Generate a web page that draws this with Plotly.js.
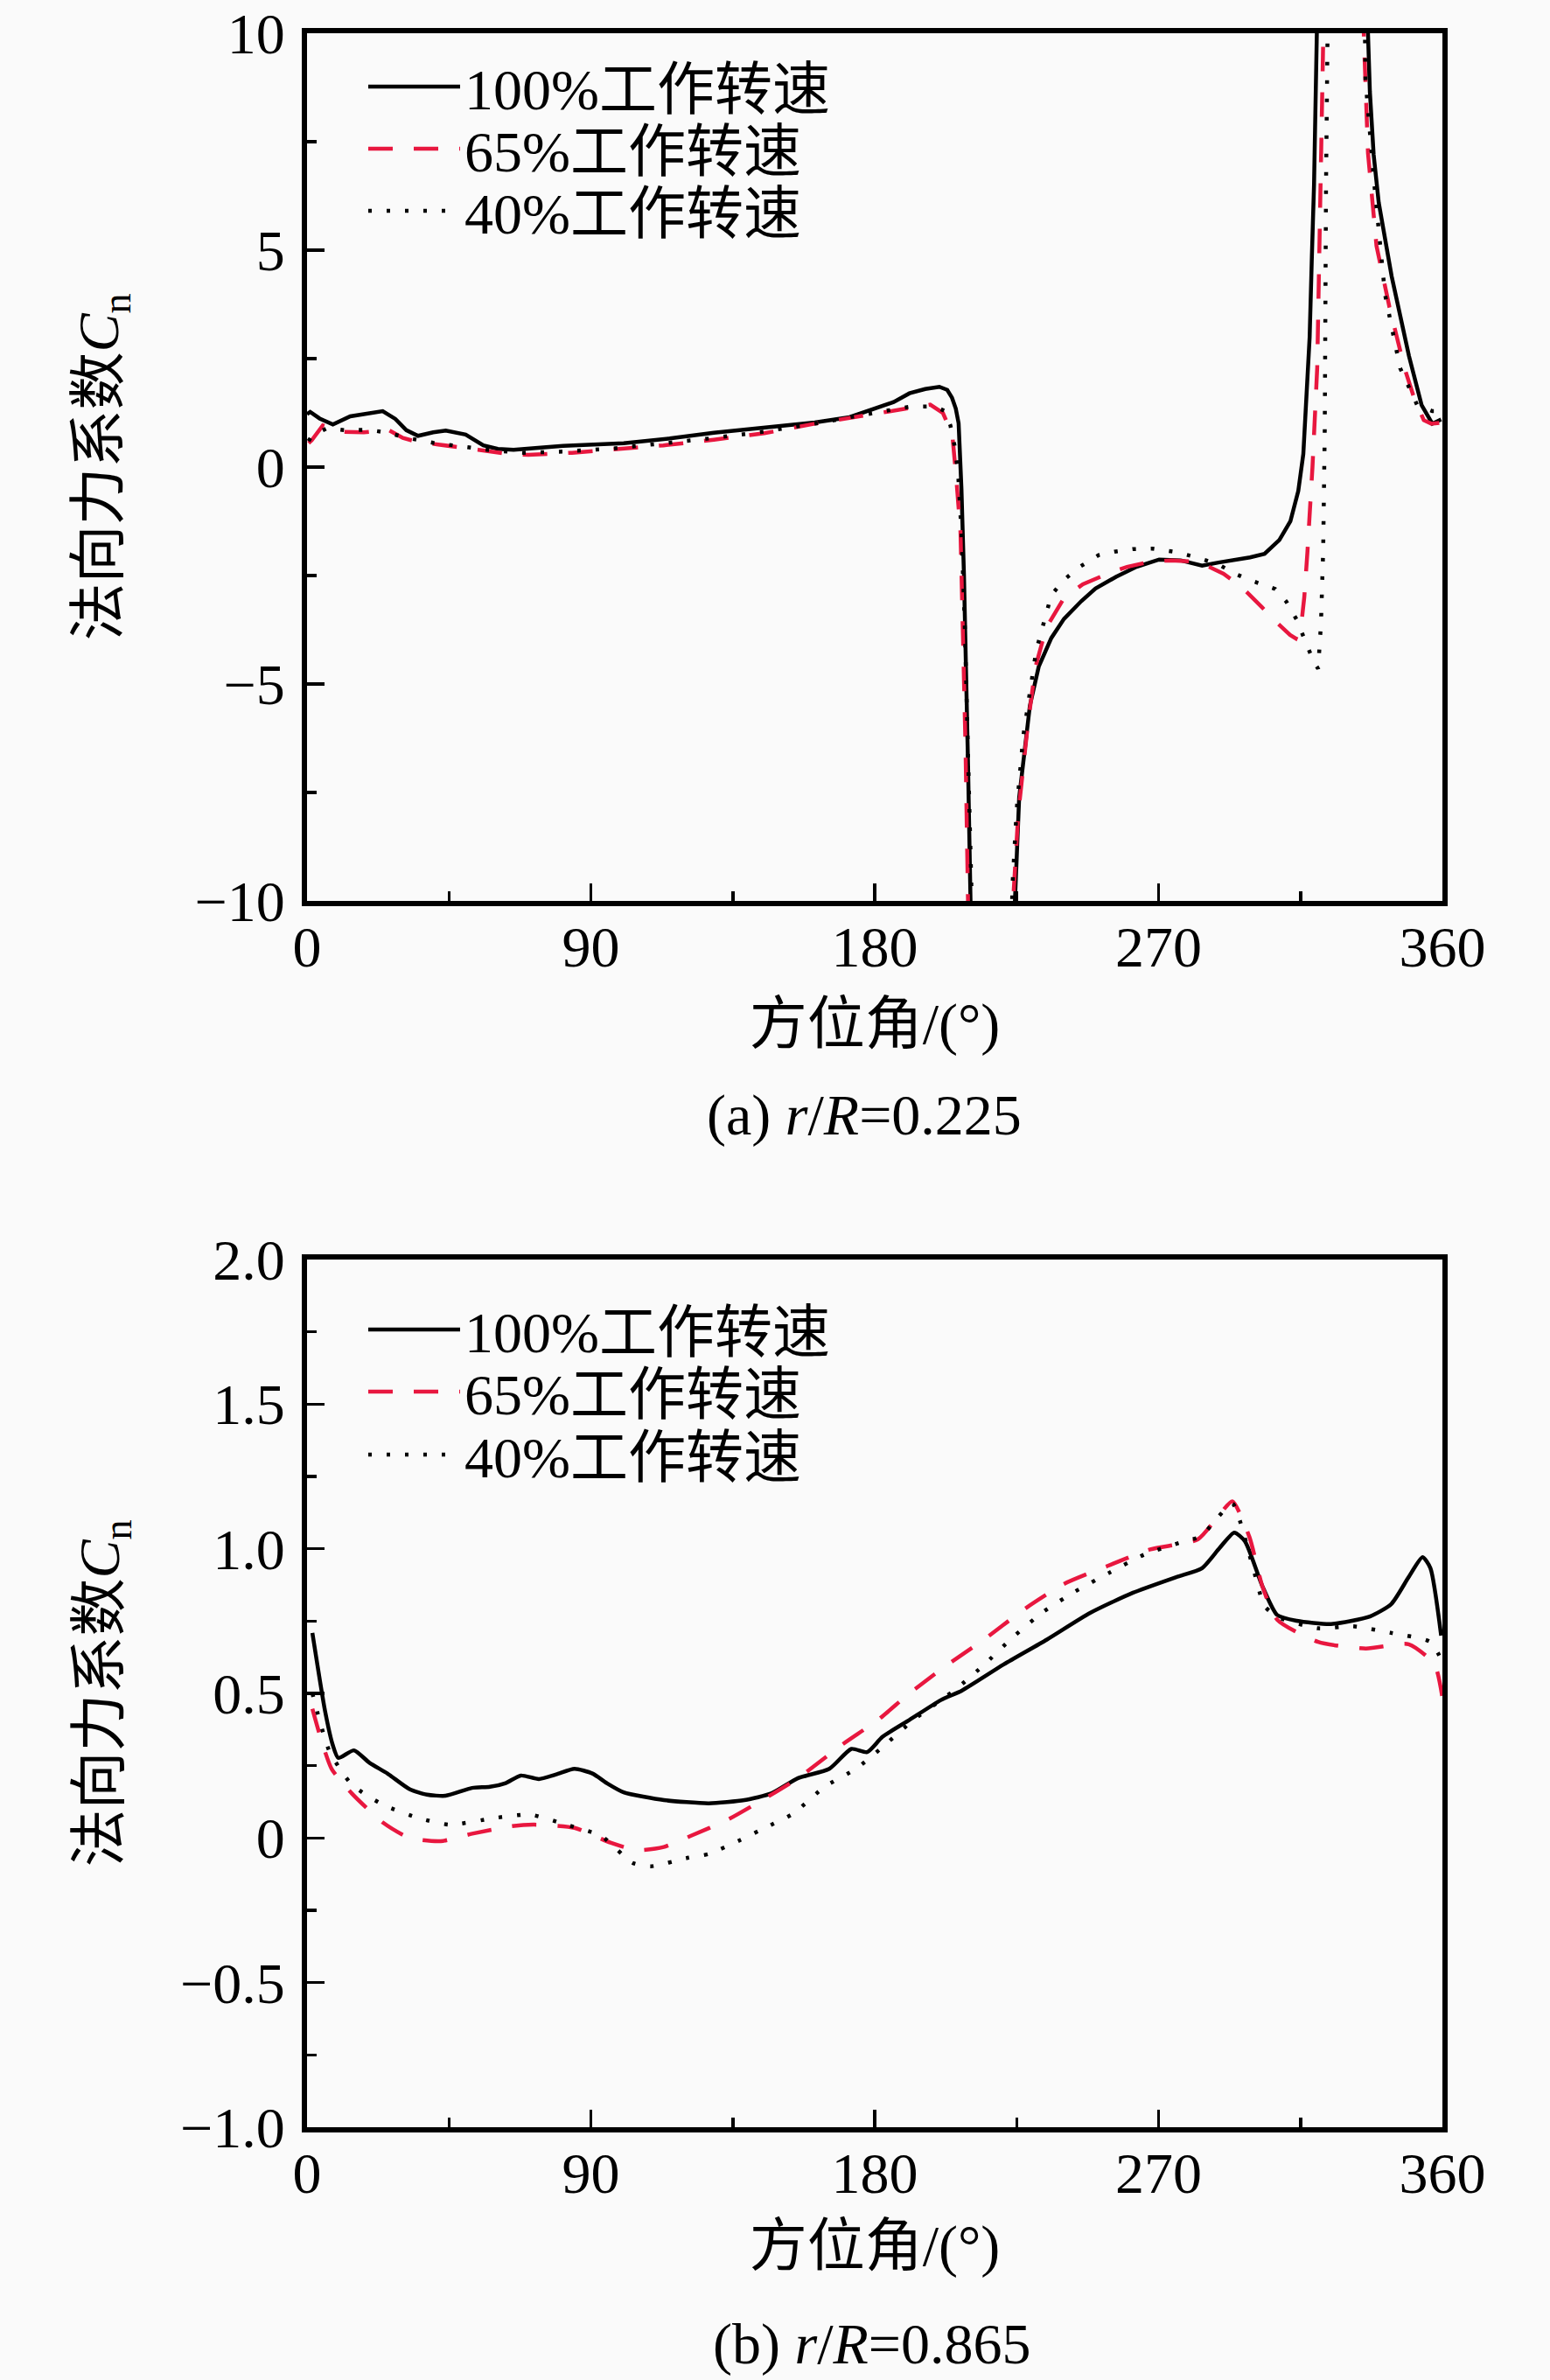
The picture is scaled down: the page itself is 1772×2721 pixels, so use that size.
<!DOCTYPE html>
<html>
<head>
<meta charset="utf-8">
<script src="https://cdn.plot.ly/plotly-3.0.1.min.js"></script>
<style>
  html, body { margin: 0; padding: 0; background: #fafafa; }
</style>
</head>
<body>
<div id="chart"></div>
<script>
// series names
const seriesNames = ["100%工作转速", "65%工作转速", "40%工作转速"];

// (a) r/R=0.225
const a100Angle = [0, 1, 4, 8.2, 13.7, 19, 24, 28, 31.5, 35.2, 40, 44, 50.3, 55.9, 60.5, 65.5, 73, 81.2, 100.4, 115, 129, 145, 161, 172, 180, 186, 191, 196, 200.5, 203, 204.5, 205.7, 206.6, 207.5, 208.3, 209, 209.6, 210.4, 211.5, 217, 223.5, 224.4, 225.8, 229.2, 232, 236, 240, 245.5, 250, 256.5, 263, 270.2, 277, 283.8, 289, 294.7, 299, 303.6, 308.3, 311.8, 314.3, 315.9, 317.2, 317.9, 318.6, 319.3, 320.2, 321, 328, 335.8, 336.4, 337, 338.2, 339.8, 343.9, 349.4, 353.4, 356.8, 359.6];
const a100Cn = [1.22, 1.27, 1.12, 0.98, 1.17, 1.24, 1.29, 1.11, 0.85, 0.72, 0.80, 0.84, 0.75, 0.50, 0.42, 0.40, 0.45, 0.49, 0.55, 0.66, 0.79, 0.90, 1.03, 1.15, 1.34, 1.50, 1.70, 1.80, 1.85, 1.78, 1.60, 1.35, 1.01, -0.5, -2.5, -4.5, -6.9, -10.1, -13, -30, -13, -10.1, -7.62, -5.5, -4.6, -3.94, -3.5, -3.09, -2.8, -2.53, -2.3, -2.13, -2.15, -2.27, -2.2, -2.13, -2.08, -2.0, -1.68, -1.25, -0.55, 0.3, 2.0, 2.99, 4.83, 6.52, 10.06, 13, 25, 13, 10, 8.65, 7.2, 6.1, 4.4, 2.56, 1.43, 1.0, 1.1];

const a65Angle = [0.5, 1.5, 5, 11.3, 18, 25.7, 30.4, 35, 41.6, 48, 54.3, 62, 70.2, 84, 97.3, 113, 129, 145, 161, 175, 184.9, 191, 197.6, 201.6, 204.6, 205.8, 207.2, 208.0, 208.8, 209.6, 211, 216, 222.5, 223.8, 225.5, 228.6, 231, 234.4, 240, 246, 253.8, 260, 267.4, 274, 281, 286, 290.6, 296, 302.9, 307, 311.7, 313.5, 315.2, 316.2, 317.2, 318.8, 320.3, 321.4, 322, 323, 329, 334.5, 335.1, 336.4, 339.1, 343.2, 348, 351, 354.1, 356.5, 359];
const a65Cn = [0.55, 0.62, 0.96, 0.81, 0.80, 0.86, 0.67, 0.58, 0.52, 0.45, 0.40, 0.32, 0.28, 0.33, 0.40, 0.50, 0.63, 0.78, 1.0, 1.17, 1.29, 1.36, 1.44, 1.25, 0.75, -0.2, -1.5, -3.96, -6.5, -10.1, -13, -25, -13, -10.1, -8.0, -5.9, -4.6, -3.7, -3.02, -2.7, -2.46, -2.3, -2.18, -2.15, -2.18, -2.3, -2.46, -2.74, -3.24, -3.55, -3.87, -3.95, -3.66, -3.0, -1.96, 0.0, 2.28, 6.52, 10.05, 13, 25, 13, 9.9, 7.24, 5.1, 3.69, 2.28, 1.6, 1.08, 1.0, 1.02];

const a40Angle = [0.5, 1.5, 6.5, 12, 19.3, 25, 32, 40, 49.5, 58, 68.6, 82, 97.3, 113, 129, 145, 161, 176, 191, 199, 202, 204, 205.3, 206.4, 207.5, 208.5, 209.4, 210.3, 211.5, 216, 222.5, 223.7, 225, 227.1, 231.2, 236, 240, 245, 251, 256, 261.9, 268, 275.6, 283, 289.2, 294, 298.8, 303, 307, 310.5, 313.8, 317, 319.3, 320.6, 321.5, 322.2, 322.7, 323.1, 323.4, 324, 329, 335, 335.6, 338.4, 341.8, 346.6, 352, 356.8, 359];
const a40Cn = [0.6, 0.72, 0.90, 0.85, 0.86, 0.80, 0.67, 0.56, 0.47, 0.39, 0.33, 0.36, 0.43, 0.54, 0.67, 0.82, 1.0, 1.2, 1.39, 1.40, 1.30, 0.96, 0.5, -0.1, -1.5, -3.5, -6.5, -10.1, -13, -25, -13, -9.6, -7.9, -6.2, -4.23, -2.95, -2.6, -2.3, -2.03, -1.95, -1.89, -1.88, -1.96, -2.1, -2.25, -2.45, -2.6, -2.7, -2.81, -3.1, -3.52, -4.1, -4.5, -4.65, -3.6, -1.9, 0.87, 6.52, 9.9, 13, 25, 13, 8.93, 6.52, 3.98, 2.28, 1.43, 1.29, 1.29];

// (b) r/R=0.865
const b100Angle = [1.7, 5.7, 8.2, 9.9, 14.9, 19.8, 25.5, 32.5, 38, 43.9, 52.3, 58, 63, 67.8, 73.5, 79, 84.8, 90.5, 95, 100.4, 113.2, 127.4, 138.7, 147.2, 155.7, 165.6, 172.6, 177.6, 182.5, 191, 201, 207.7, 220.9, 234.6, 248.3, 261.9, 275.6, 283.8, 289.3, 294, 297.4, 302.9, 307.6, 313.8, 324.7, 337, 343.8, 349.3, 353.7, 356.2, 359.6];
const b100Cn = [0.709, 0.44, 0.32, 0.277, 0.303, 0.26, 0.223, 0.169, 0.15, 0.146, 0.173, 0.177, 0.19, 0.216, 0.204, 0.22, 0.239, 0.223, 0.19, 0.158, 0.131, 0.12, 0.131, 0.154, 0.207, 0.239, 0.308, 0.297, 0.35, 0.408, 0.477, 0.51, 0.60, 0.686, 0.778, 0.848, 0.902, 0.933, 1.002, 1.056, 1.026, 0.871, 0.771, 0.751, 0.74, 0.766, 0.809, 0.902, 0.971, 0.933, 0.70];

const b65Angle = [1.7, 4.3, 7.8, 14.2, 24.1, 32.5, 42.4, 52.4, 65, 72.1, 84.8, 96.2, 104.6, 113.1, 121.6, 133, 144.3, 155.7, 169.7, 181, 191, 203.2, 215.5, 227.8, 240.1, 253.7, 267.4, 282.5, 289.3, 293.4, 298.8, 302.9, 307.6, 320.6, 335.7, 349.3, 357.5, 360];
const b65Cn = [0.447, 0.347, 0.239, 0.154, 0.053, 0.0, -0.011, 0.015, 0.041, 0.046, 0.035, -0.016, -0.042, -0.031, 0.007, 0.061, 0.131, 0.207, 0.323, 0.408, 0.500, 0.60, 0.693, 0.794, 0.879, 0.94, 0.998, 1.033, 1.118, 1.164, 1.041, 0.871, 0.755, 0.678, 0.655, 0.67, 0.60, 0.485];

const b40Angle = [1.7, 7.1, 14.2, 24.1, 35.4, 45.3, 59.4, 70.7, 82.1, 93.3, 103.2, 109, 120.2, 127.4, 137.2, 145.7, 154.1, 164.1, 174, 182, 192.3, 205.9, 214.8, 223.7, 233.3, 243.5, 254.4, 265.3, 277, 283.8, 286.5, 293.4, 295.4, 300.2, 303.6, 308, 320.6, 331.6, 343.8, 356.2, 359.6];
const b40Cn = [0.50, 0.30, 0.185, 0.115, 0.069, 0.046, 0.069, 0.081, 0.046, 0.007, -0.086, -0.098, -0.07, -0.055, -0.008, 0.038, 0.084, 0.177, 0.239, 0.31, 0.408, 0.516, 0.60, 0.693, 0.781, 0.852, 0.917, 0.979, 1.022, 1.044, 1.079, 1.157, 1.11, 0.925, 0.802, 0.763, 0.725, 0.732, 0.709, 0.678, 0.617];

// tick labels
const angleTicks = [0, 90, 180, 270, 360];
const topTicks = [-10, -5, 0, 5, 10];
const bottomTicks = [-1, -0.5, 0, 0.5, 1, 1.5, 2];
const bottomTickText = ["\u22121.0", "\u22120.5", "0", "0.5", "1.0", "1.5", "2.0"];

const FONT = "'Liberation Serif', 'Noto Sans CJK SC', serif";
const FS = 66;
const W = 1772, H = 2721;

const lineStyles = [
    { color: "#000000", width: 4.5, dash: "solid" },
    { color: "#e8173f", width: 4.5, dash: "28px,24px" },
    { color: "#000000", width: 4.5, dash: "4px,17px" }
];

function makeTrace(x, y, i, panel) {
    const legendId = i + 1 + panel * 3;
    return {
        x: x, y: y,
        type: "scatter", mode: "lines",
        name: seriesNames[i],
        xaxis: panel === 0 ? "x" : "x2",
        yaxis: panel === 0 ? "y" : "y2",
        legend: legendId === 1 ? "legend" : "legend" + legendId,
        line: Object.assign({ shape: panel === 0 ? "linear" : "spline", smoothing: 0.6 }, lineStyles[i])
    };
}

const traces = [
    makeTrace(a100Angle, a100Cn, 0, 0),
    makeTrace(a65Angle, a65Cn, 1, 0),
    makeTrace(a40Angle, a40Cn, 2, 0),
    makeTrace(b100Angle, b100Cn, 0, 1),
    makeTrace(b65Angle, b65Cn, 1, 1),
    makeTrace(b40Angle, b40Cn, 2, 1)
];

function px(v) { return v / W; }
function py(v) { return 1 - v / H; }

const textFont = { family: FONT, size: FS, color: "#000" };

const axisBase = {
    showline: true, linewidth: 6, linecolor: "#000", mirror: true,
    ticks: "inside", ticklen: 20, tickwidth: 3.5, tickcolor: "#000",
    showgrid: false, zeroline: false, fixedrange: true,
    tickfont: textFont
};

function xAxis(anchor, standoff) {
    return Object.assign({}, axisBase, {
        anchor: anchor,
        domain: [px(351), px(1649)],
        range: [0, 360],
        tickvals: angleTicks,
        ticklabelstandoff: -10,
        minor: { ticks: "inside", dtick: 45, ticklen: 11, tickwidth: 3.5, tickcolor: "#000" },
        title: { text: "方位角/(°)", font: textFont, standoff: standoff }
    });
}

function yAxis(anchor, top, bottom, range, extra, standoff) {
    return Object.assign({}, axisBase, {
        anchor: anchor,
        domain: [py(bottom), py(top)],
        range: range,
        ticklabelstandoff: 6,
        title: { text: "法向力系数<i>C</i><sub>n</sub>", font: textFont, standoff: standoff }
    }, extra);
}

const legendRowsTop = [99, 170, 241];
const legendRowsBottom = [1520, 1591, 1663];

const layout = {
    width: W, height: H,
    margin: { l: 0, r: 0, t: 0, b: 0 },
    paper_bgcolor: "#fafafa",
    plot_bgcolor: "#fafafa",
    font: textFont,
    showlegend: true,
    xaxis: xAxis("y", 31),
    yaxis: yAxis("x", 38, 1030, [-10, 10], {
        tickvals: topTicks,
        minor: { ticks: "inside", dtick: 2.5, ticklen: 11, tickwidth: 3.5, tickcolor: "#000" }
    }, 67),
    xaxis2: xAxis("y2", 26),
    yaxis2: yAxis("x2", 1440, 2432, [-1, 2], {
        tickvals: bottomTicks,
        ticktext: bottomTickText,
        minor: { ticks: "inside", dtick: 0.25, ticklen: 11, tickwidth: 3.5, tickcolor: "#000" }
    }, 50),
    annotations: [
        { text: "(a) <i>r</i>/<i>R</i>=0.225", x: px(988), y: py(1275), xref: "paper", yref: "paper",
          showarrow: false, xanchor: "center", yanchor: "middle", font: textFont },
        { text: "(b) <i>r</i>/<i>R</i>=0.865", x: px(997), y: py(2680), xref: "paper", yref: "paper",
          showarrow: false, xanchor: "center", yanchor: "middle", font: textFont }
    ]
};

// one legend per row so the rows sit where the reference has them
legendRowsTop.concat(legendRowsBottom).forEach(function (row, k) {
    const key = k === 0 ? "legend" : "legend" + (k + 1);
    layout[key] = {
        x: px(416), y: py(row),
        xanchor: "left", yanchor: "middle",
        bgcolor: "rgba(0,0,0,0)", borderwidth: 0,
        itemwidth: 105,
        font: textFont
    };
});

Plotly.newPlot("chart", traces, layout, { displayModeBar: false, staticPlot: true });
</script>
</body>
</html>
